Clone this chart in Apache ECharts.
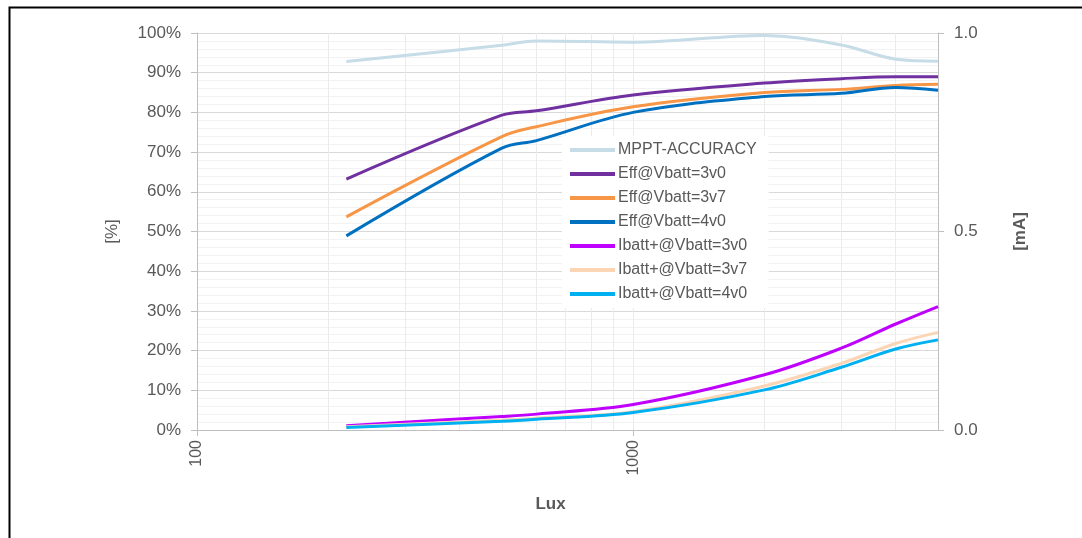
<!DOCTYPE html>
<html>
<head>
<meta charset="utf-8">
<script src="https://cdn.jsdelivr.net/npm/echarts@6/dist/echarts.min.js"></script>
<style>
  html, body { margin: 0; padding: 0; background: #fff; }
  #chart { width: 1082px; height: 538px; }
</style>
</head>
<body>
<div id="chart"></div>
<script>
// lux points (x), efficiency in % (left axis), battery current in mA (right axis)
var lux = [220, 500, 600, 1000, 2000, 3000, 4000, 5000];
var mppt = [92.8, 96.9, 98.0, 97.7, 99.4, 97.0, 93.4, 92.9];
var eff3v0 = [63.2, 79.3, 80.4, 84.4, 87.4, 88.5, 89.0, 89.0];
var eff3v7 = [53.7, 73.9, 76.4, 81.4, 85.0, 85.8, 86.8, 87.1];
var eff4v0 = [48.9, 71.0, 72.9, 80.0, 84.0, 84.8, 86.3, 85.6];
var ib3v0 = [0.011, 0.034, 0.040, 0.064, 0.139, 0.206, 0.267, 0.311];
var ib3v7 = [0.008, 0.025, 0.030, 0.046, 0.111, 0.168, 0.218, 0.246];
var ib4v0 = [0.006, 0.022, 0.027, 0.044, 0.101, 0.158, 0.204, 0.227];
var minorLux = [200, 300, 400, 500, 600, 700, 800, 900, 2000, 3000, 4000];

var names = ['MPPT-ACCURACY', 'Eff@Vbatt=3v0', 'Eff@Vbatt=3v7', 'Eff@Vbatt=4v0',
  'Ibatt+@Vbatt=3v0', 'Ibatt+@Vbatt=3v7', 'Ibatt+@Vbatt=4v0'];
var colors = ['#c6dce7', '#7030a0', '#f79646', '#0070c0', '#c000ff', '#fcd5b4', '#00b0f0'];
var values = [mppt, eff3v0, eff3v7, eff4v0, ib3v0, ib3v7, ib4v0];

var txt = '#595959';
var font = 'Liberation Sans';

function pairs(arr) {
  return lux.map(function (x, i) { return [x, arr[i]]; });
}

var series = names.map(function (n, i) {
  return {
    name: n,
    type: 'line',
    yAxisIndex: i < 4 ? 0 : 1,
    data: pairs(values[i]),
    smooth: 0.35,
    showSymbol: false,
    symbol: 'none',
    z: 3,
    lineStyle: { width: 3, color: colors[i] },
    itemStyle: { color: colors[i] }
  };
});

// faint log-scale minor verticals, kept under the curves
series.unshift({
  name: 'grid',
  type: 'line',
  data: [],
  z: 1,
  markLine: {
    silent: true,
    z: 1,
    symbol: 'none',
    label: { show: false },
    lineStyle: { color: '#ebebeb', width: 1, type: 'solid' },
    data: minorLux.map(function (v) { return { xAxis: v }; })
  }
});

var chart = echarts.init(document.getElementById('chart'));
chart.setOption({
  animation: false,
  textStyle: { fontFamily: font },
  graphic: [{
    type: 'rect',
    left: 7, top: 5,
    shape: { width: 1100, height: 600 },
    style: { fill: 'none', stroke: '#000', lineWidth: 2 }
  }],
  grid: { left: 197, right: 144, top: 33, bottom: 108 },
  legend: {
    data: names,
    orient: 'vertical',
    left: 562, top: 136,
    backgroundColor: '#fff',
    padding: [4, 12, 4, 8],
    itemGap: 4,
    itemWidth: 45,
    itemHeight: 4,
    icon: 'rect',
    textStyle: { color: txt, fontSize: 16, lineHeight: 20, fontFamily: font, padding: [0, 0, 0, -2] }
  },
  xAxis: {
    type: 'log',
    logBase: 10,
    min: 100,
    max: 5000,
    name: 'Lux',
    nameLocation: 'middle',
    nameGap: 66,
    nameTextStyle: { color: txt, fontSize: 17, fontWeight: 'bold', padding: [0, 34, 0, 0] },
    axisLine: { lineStyle: { color: '#bfbfbf' } },
    axisTick: { show: true, length: 6, lineStyle: { color: '#bfbfbf' } },
    axisLabel: {
      rotate: 90, color: txt, fontSize: 16, margin: 10,
      showMaxLabel: false,
      formatter: function (v) { return (v === 100 || v === 1000) ? String(v) : ''; }
    },
    splitLine: { show: true, lineStyle: { color: '#ebebeb' } }
  },
  yAxis: [{
    type: 'value',
    min: 0, max: 100, interval: 10,
    name: '[%]',
    nameLocation: 'middle',
    nameRotate: 90,
    nameGap: 76,
    nameTextStyle: { color: txt, fontSize: 17 },
    axisLine: { show: true, lineStyle: { color: '#bfbfbf' } },
    axisTick: { show: true, length: 6, lineStyle: { color: '#bfbfbf' } },
    axisLabel: { color: txt, fontSize: 17, margin: 16, formatter: '{value}%' },
    splitLine: { lineStyle: { color: '#d9d9d9' } },
    minorTick: { show: false, splitNumber: 5 },
    minorSplitLine: { show: true, lineStyle: { color: '#f2f2f2' } }
  }, {
    type: 'value',
    min: 0, max: 1, interval: 0.5,
    name: '[mA]',
    nameLocation: 'middle',
    nameRotate: 90,
    nameGap: 74,
    nameTextStyle: { color: txt, fontSize: 17, fontWeight: 'bold' },
    axisLine: { show: true, lineStyle: { color: '#bfbfbf' } },
    axisTick: { show: true, length: 6, lineStyle: { color: '#bfbfbf' } },
    axisLabel: { color: txt, fontSize: 17, margin: 16, formatter: function (v) { return v.toFixed(1); } },
    splitLine: { show: false }
  }],
  series: series
});
window.onresize = function () { chart.resize(); };
</script>
</body>
</html>
